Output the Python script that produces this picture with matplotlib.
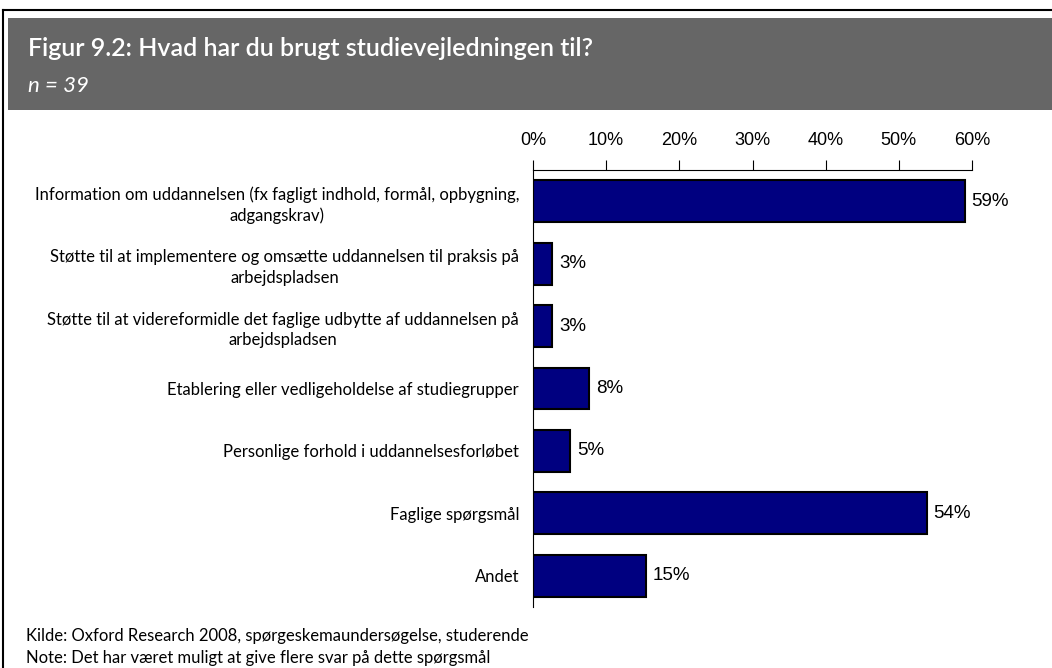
import matplotlib.pyplot as plt
import matplotlib.patches as mpatches
from matplotlib.lines import Line2D
import numpy as np

# Data (n = 39, andel af respondenter i %)
categories = [
    "Information om uddannelsen (fx fagligt indhold, formål, opbygning,\nadgangskrav)",
    "Støtte til at implementere og omsætte uddannelsen til praksis på\narbejdspladsen",
    "Støtte til at videreformidle det faglige udbytte af uddannelsen på\narbejdspladsen",
    "Etablering eller vedligeholdelse af studiegrupper",
    "Personlige forhold i uddannelsesforløbet",
    "Faglige spørgsmål",
    "Andet",
]
values = [59.0, 2.6, 2.6, 7.7, 5.1, 53.8, 15.4]
xticks = [0, 10, 20, 30, 40, 50, 60]

title = "Figur 9.2: Hvad har du brugt studievejledningen til?"
subtitle = "n = 39"
source = "Kilde: Oxford Research 2008, spørgeskemaundersøgelse, studerende"
note = "Note: Det har været muligt at give flere svar på dette spørgsmål"

label_font = ["Lato", "DejaVu Sans"]
num_font = ["Liberation Sans", "DejaVu Sans"]

W, H = 1052, 668
fig = plt.figure(figsize=(W / 100, H / 100), dpi=100)

# ramme og grå overskriftsbjælke
fig.add_artist(Line2D([3 / W, 3 / W], [0, 1 - 10 / H], color="black", lw=1.5))
fig.add_artist(Line2D([3 / W, 1], [1 - 10 / H, 1 - 10 / H], color="black", lw=1.5))
fig.add_artist(mpatches.Rectangle((8 / W, 1 - 110 / H), 1, 92 / H,
                                  transform=fig.transFigure, color="#666666", lw=0))
fig.text(28 / W, 1 - 48 / H, title, color="white", fontsize=18, fontweight="semibold",
         family=label_font, va="center", ha="left")
fig.text(28 / W, 1 - 86 / H, subtitle, color="white", fontsize=16, style="italic",
         family=label_font, va="center", ha="left")

# akser
ax_left, ax_right = 533, 972
ax_top, ax_bottom = 170, 607
ax = fig.add_axes([ax_left / W, 1 - ax_bottom / H, (ax_right - ax_left) / W,
                   (ax_bottom - ax_top) / H])

y = np.arange(len(categories))
bars = ax.barh(y, values, height=0.67, color="#000080", edgecolor="black", linewidth=1.5)

ax.set_xlim(0, 60)
ax.set_ylim(len(categories) - 0.5, -0.5)
ax.xaxis.tick_top()
ax.set_xticks(xticks)
ax.set_xticklabels([f"{t}%" for t in xticks], family=num_font, fontsize=13)
ax.tick_params(axis="x", direction="out", length=7, width=0.8, pad=8)
ax.set_yticks(y)
ax.set_yticklabels(categories, family=label_font, fontsize=12, multialignment="center",
                   linespacing=1.35)
ax.tick_params(axis="y", length=0, pad=10)

for side in ["right", "bottom"]:
    ax.spines[side].set_visible(False)
ax.spines["top"].set_linewidth(0.8)
ax.spines["left"].set_linewidth(0.8)

for rect, v in zip(bars, values):
    ax.annotate(f"{v:.0f}%", xy=(rect.get_width(), rect.get_y() + rect.get_height() / 2),
                xytext=(5, 0), textcoords="offset points", ha="left", va="center",
                family=num_font, fontsize=13.5)

fig.text(26 / W, 1 - 636 / H, source, fontsize=12, family=label_font, va="center")
fig.text(26 / W, 1 - 658 / H, note, fontsize=12, family=label_font, va="center")

plt.savefig("out.png", dpi=100)
